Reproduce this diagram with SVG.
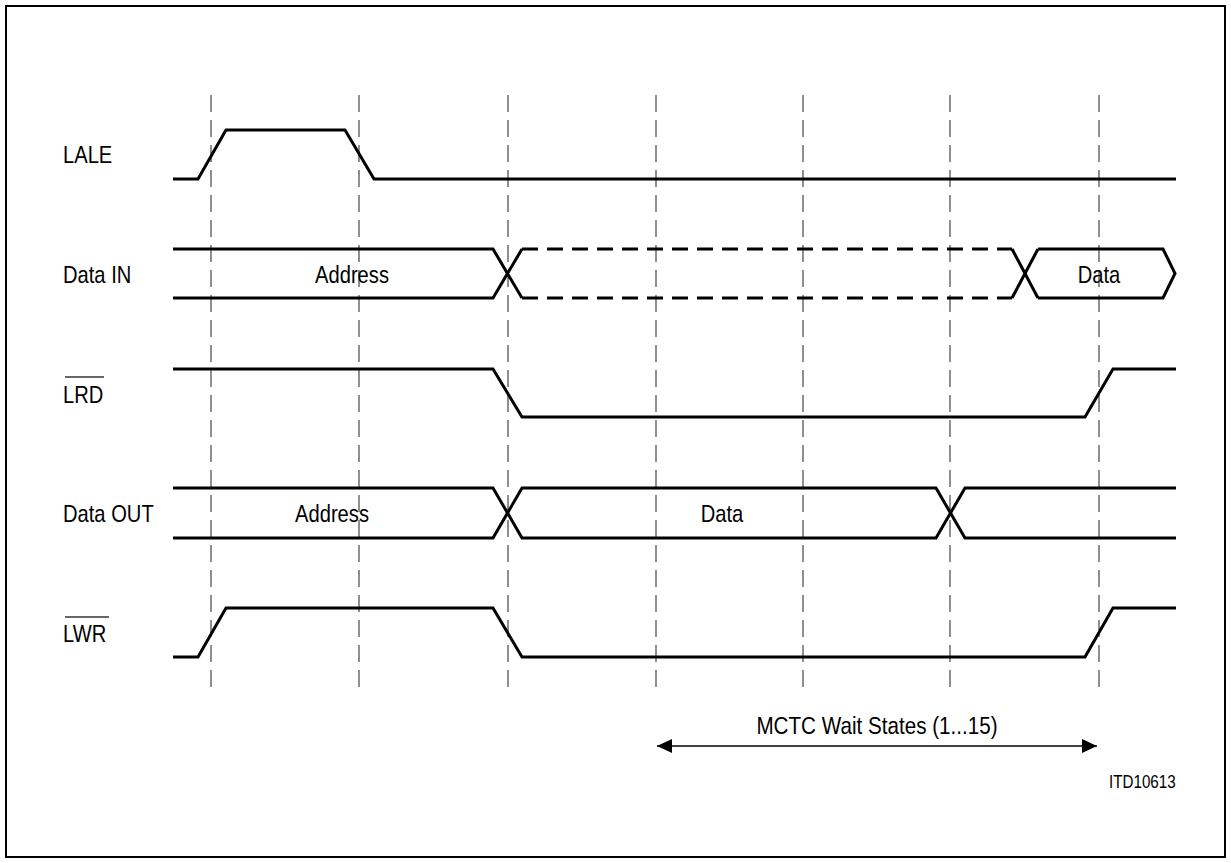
<svg xmlns="http://www.w3.org/2000/svg" width="1231" height="863" viewBox="0 0 1231 863">
<style>
.sig{fill:none;stroke:#000;stroke-width:3;stroke-linejoin:miter}
.dsig{fill:none;stroke:#000;stroke-width:3;stroke-dasharray:16 9}
.grid{stroke:#555;stroke-width:1.3;stroke-dasharray:17 8}
.t{font-family:"Liberation Sans",Arial,sans-serif;font-size:24px;fill:#000}
.m{text-anchor:middle}
.ov{stroke:#333;stroke-width:1.5}
</style>
<defs>
<marker id="ah" viewBox="0 0 15 14" refX="15" refY="7" markerWidth="15" markerHeight="14" markerUnits="userSpaceOnUse" orient="auto-start-reverse">
<path d="M0,0 L15,7 L0,14 Z" fill="#000"/>
</marker>
</defs>
<rect x="6" y="6" width="1219" height="851" fill="#fff" stroke="#000" stroke-width="2"/>
<g id="grid">
<line class="grid" x1="211" y1="95" x2="211" y2="692"/>
<line class="grid" x1="359" y1="95" x2="359" y2="692"/>
<line class="grid" x1="508" y1="95" x2="508" y2="692"/>
<line class="grid" x1="656" y1="95" x2="656" y2="692"/>
<line class="grid" x1="803" y1="95" x2="803" y2="692"/>
<line class="grid" x1="950" y1="95" x2="950" y2="692"/>
<line class="grid" x1="1099" y1="95" x2="1099" y2="692"/>
</g>
<g id="LALE">
<text class="t" transform="translate(63,163) scale(0.84,1)">LALE</text>
<polyline class="sig" points="173,179 198,179 226,130 345,130 374,179 1176,179"/>
</g>
<g id="DataIN">
<text class="t" transform="translate(63,283) scale(0.84,1)">Data IN</text>
<polyline class="sig" points="173,249 493,249 522,298"/>
<polyline class="sig" points="173,298 493,298 522,249"/>
<line class="dsig" x1="522" y1="249" x2="1012" y2="249"/>
<line class="dsig" x1="522" y1="298" x2="1012" y2="298"/>
<line class="sig" x1="1012" y1="249" x2="1038" y2="298"/>
<line class="sig" x1="1012" y1="298" x2="1038" y2="249"/>
<polyline class="sig" points="1038,249 1163,249 1175,273.5 1163,298 1038,298"/>
<text class="t m" transform="translate(352,283) scale(0.84,1)">Address</text>
<text class="t m" transform="translate(1099,283) scale(0.84,1)">Data</text>
</g>
<g id="LRD">
<text class="t" transform="translate(63,403) scale(0.84,1)">LRD</text>
<line class="ov" x1="65" y1="377" x2="104" y2="377"/>
<polyline class="sig" points="173,369 493,369 522,417 1085,417 1113,369 1176,369"/>
</g>
<g id="DataOUT">
<text class="t" transform="translate(63,522) scale(0.84,1)">Data OUT</text>
<polyline class="sig" points="173,488 493,488 522,538 936,538 965,488 1176,488"/>
<polyline class="sig" points="173,538 493,538 522,488 936,488 965,538 1176,538"/>
<text class="t m" transform="translate(332,522) scale(0.84,1)">Address</text>
<text class="t m" transform="translate(722,522) scale(0.84,1)">Data</text>
</g>
<g id="LWR">
<text class="t" transform="translate(63,642) scale(0.84,1)">LWR</text>
<line class="ov" x1="65" y1="617" x2="109" y2="617"/>
<polyline class="sig" points="173,657 198,657 226,608 493,608 522,657 1085,657 1113,608 1176,608"/>
</g>
<g id="connectors">
<line x1="657" y1="746" x2="1097" y2="746" stroke="#000" stroke-width="1.5" marker-start="url(#ah)" marker-end="url(#ah)"/>
</g>
<g id="labels">
<text class="t m" transform="translate(877,734) scale(0.86,1)">MCTC Wait States (1...15)</text>
<text class="t" style="font-size:19px" transform="translate(1109,788) scale(0.8,1)">ITD10613</text>
</g>
</svg>
